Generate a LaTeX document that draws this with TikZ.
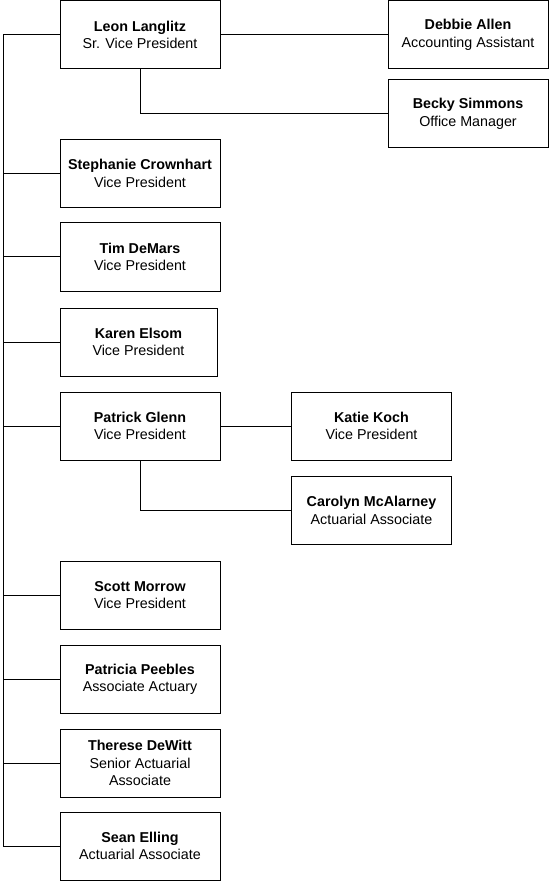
\documentclass[tikz,border=0pt]{standalone}
\usepackage{fontspec}
\setmainfont{Liberation Sans}
\begin{document}
\begin{tikzpicture}[x=1pt, y=-1pt, line width=1pt,
    person/.style={draw, rectangle, align=center, minimum width=160pt, minimum height=68pt,
      inner sep=2pt, font=\fontsize{14.3}{17.4}\selectfont}]
\useasboundingbox (0,0) rectangle (549,882);
% left column
\node[person] (leon) at (140,35) {\textbf{Leon Langlitz}\\Sr. Vice President};
\node[person] (stephanie) at (140,173.5) {\textbf{Stephanie Crownhart}\\Vice President};
\node[person] (tim) at (140,257) {\textbf{Tim DeMars}\\Vice President};
\node[person, minimum width=157pt] (karen) at (138.5,342) {\textbf{Karen Elsom}\\Vice President};
\node[person] (patrick) at (140,426) {\textbf{Patrick Glenn}\\Vice President};
\node[person] (scott) at (140,595) {\textbf{Scott Morrow}\\Vice President};
\node[person] (patricia) at (140,679) {\textbf{Patricia Peebles}\\Associate Actuary};
\node[person] (therese) at (140,763) {\textbf{Therese DeWitt}\\Senior Actuarial\\Associate};
\node[person] (sean) at (140,846) {\textbf{Sean Elling}\\Actuarial Associate};
% right side
\node[person] (debbie) at (468,35) {\textbf{Debbie Allen}\\Accounting Assistant};
\node[person] (becky) at (468,114) {\textbf{Becky Simmons}\\Office Manager};
\node[person] (katie) at (371.5,426) {\textbf{Katie Koch}\\Vice President};
\node[person] (carolyn) at (371.5,510.5) {\textbf{Carolyn McAlarney}\\Actuarial Associate};

\coordinate (trunk) at (3.5,35);
\draw (leon.west) -- (trunk) |- (sean.west); %trunk
\foreach \p in {stephanie,tim,karen,patrick,scott,patricia,therese}
  \draw (\p.west) -- (\p.west -| trunk);
\draw (leon.east) -- (debbie.west); %Leon-Debbie
\draw (leon.south) |- (becky.west); %Leon-Becky
\draw (patrick.east) -- (katie.west); %Patrick-Katie
\draw (patrick.south) |- (carolyn.west); %Patrick-Carolyn
\end{tikzpicture}
\end{document}
